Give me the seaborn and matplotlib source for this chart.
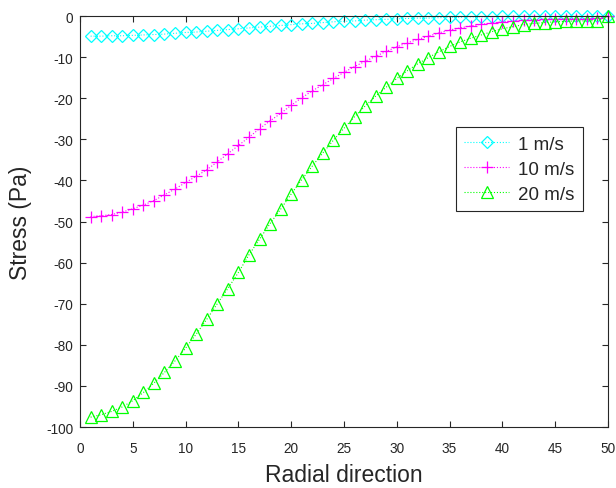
import numpy as np
import pandas as pd
import matplotlib
matplotlib.use("Agg")
import matplotlib.pyplot as plt
import seaborn as sns

# ---- data ----
radial = list(range(1, 51))

stress_1ms = [-4.9, -4.9, -4.8, -4.8, -4.7, -4.6, -4.5, -4.4, -4.2, -4.0,
              -3.9, -3.7, -3.5, -3.3, -3.1, -2.9, -2.7, -2.5, -2.3, -2.1,
              -1.9, -1.8, -1.6, -1.4, -1.3, -1.2, -1.0, -0.9, -0.8, -0.7,
              -0.6, -0.5, -0.5, -0.4, -0.3, -0.3, -0.2, -0.2, -0.2, -0.1,
              -0.1, -0.1, -0.1, -0.1, -0.1, -0.1, -0.1, -0.1, -0.1, 0.0]

stress_10ms = [-48.8, -48.6, -48.3, -47.7, -46.9, -46.0, -44.9, -43.5, -42.1, -40.5,
               -39.0, -37.4, -35.5, -33.5, -31.5, -29.5, -27.4, -25.5, -23.7, -21.7,
               -19.9, -18.2, -16.7, -15.2, -13.7, -12.3, -11.0, -9.8, -8.6, -7.5,
               -6.5, -5.7, -4.9, -4.1, -3.4, -2.9, -2.4, -2.0, -1.7, -1.4,
               -1.2, -1.0, -0.9, -0.8, -0.8, -0.7, -0.7, -0.7, -0.6, 0.0]

stress_20ms = [-97.6, -97.0, -96.2, -95.1, -93.6, -91.6, -89.3, -86.7, -83.9, -80.8,
               -77.4, -73.8, -70.0, -66.3, -62.4, -58.1, -54.3, -50.5, -47.0, -43.3,
               -39.8, -36.5, -33.3, -30.2, -27.3, -24.5, -21.9, -19.5, -17.3, -15.2,
               -13.3, -11.6, -10.1, -8.7, -7.4, -6.3, -5.4, -4.6, -3.8, -3.1,
               -2.6, -2.1, -1.8, -1.6, -1.4, -1.3, -1.2, -1.2, -1.1, 0.0]

series_labels = ["1 m/s", "10 m/s", "20 m/s"]
x_ticks = list(range(0, 51, 5))
y_ticks = list(range(-100, 1, 10))

# ---- styling ----
sns.set_style("ticks")
plt.rcParams["font.family"] = ["Liberation Sans", "DejaVu Sans"]
plt.rcParams["axes.unicode_minus"] = False

axis_col = "#262626"

fig = plt.figure(figsize=(6.16, 4.89), dpi=100)
ax = fig.add_axes([0.1299, 0.1247, 0.8571, 0.8405])

specs = [
    ("#00FFFF", "D", 6.5),
    ("#FF00FF", "+", 9.0),
    ("#00FF00", "^", 8.5),
]
for vals, lab, (col, mk, ms) in zip([stress_1ms, stress_10ms, stress_20ms],
                                     series_labels, specs):
    df = pd.DataFrame({"x": radial, "y": vals})
    sns.lineplot(data=df, x="x", y="y", ax=ax, color=col, linestyle=":",
                 linewidth=0.8, marker=mk, markersize=ms,
                 markerfacecolor="none", markeredgecolor=col,
                 markeredgewidth=0.9, label=lab, errorbar=None, clip_on=False)

ax.set_xlim(0, 50)
ax.set_ylim(-100, 0)
ax.set_xticks(x_ticks)
ax.set_yticks(y_ticks)
ax.set_xticklabels([str(t) for t in x_ticks])
ax.set_yticklabels([str(t) for t in y_ticks])

for side in ["top", "right", "left", "bottom"]:
    ax.spines[side].set_visible(True)
    ax.spines[side].set_color(axis_col)
    ax.spines[side].set_linewidth(0.8)
ax.tick_params(axis="both", which="both", direction="in", top=True, right=True,
               length=4, width=0.8, color=axis_col, labelcolor=axis_col,
               labelsize=9.8)
ax.tick_params(axis="x", pad=10)
ax.tick_params(axis="y", pad=5)

ax.set_xlabel("Radial direction", fontsize=16.5, color=axis_col, labelpad=6)
ax.set_ylabel("Stress (Pa)", fontsize=16.5, color=axis_col, labelpad=10)

leg = ax.legend(loc="upper right", bbox_to_anchor=(0.953, 0.729),
                frameon=True, fancybox=False, fontsize=13.5, handlelength=2.4,
                handletextpad=0.48, borderpad=0.45, labelspacing=0.42,
                borderaxespad=0)
leg.get_frame().set_edgecolor(axis_col)
leg.get_frame().set_linewidth(0.8)
leg.get_frame().set_alpha(1)

fig.savefig("out.png", dpi=100)
